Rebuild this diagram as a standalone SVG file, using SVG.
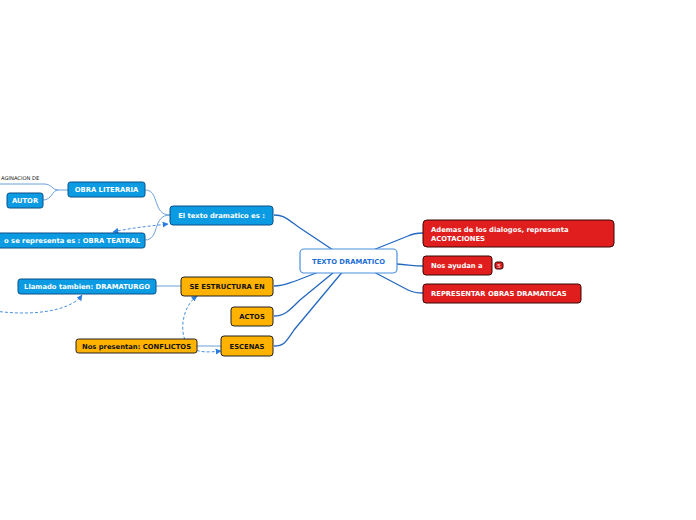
<svg xmlns="http://www.w3.org/2000/svg" width="696" height="520" viewBox="0 0 696 520">
<defs>
<style>
text{font-family:"DejaVu Sans",Verdana,sans-serif;font-weight:bold;font-size:6.8px}
.blue rect{fill:#0b9be3;stroke:#0a4f86;stroke-width:1}
.blue text{fill:#fff}
.orange rect{fill:#ffb300;stroke:#222;stroke-width:1}
.orange text{fill:#111}
.red rect{fill:#e01e1e;stroke:#3a0505;stroke-width:1}
.red text{fill:#fff}
.main{fill:none;stroke:#2468c0;stroke-width:1.3}
.sub{fill:none;stroke:#5a95d6;stroke-width:0.9}
.dash{fill:none;stroke:#4a90e2;stroke-width:1;stroke-dasharray:3,2}
</style>
<marker id="arr" viewBox="0 0 10 10" refX="9" refY="5" markerWidth="6" markerHeight="6" orient="auto-start-reverse">
<path d="M0,0 L10,5 L0,10 z" fill="#2a7de0"/>
</marker>
</defs>
<rect width="696" height="520" fill="#fff"/>
<g id="connectors">
<path class="main" d="M274,215 C284,215 286,218 300,228 L336,252"/>
<path class="main" d="M274,286 C284,286 286,284 298,280 L334,266"/>
<path class="main" d="M274,316 C284,316 288,312 300,300 L339,268"/>
<path class="main" d="M274,346 C284,346 286,342 294,330 L344,270"/>
<path class="main" d="M368,252 L408,236 C414,233 418,233 423,233"/>
<path class="main" d="M397,264 C410,265 414,266 423,266"/>
<path class="main" d="M370,270 L408,290 C414,293 418,293 423,293"/>
<path class="sub" d="M145,190 C160,190 152,215 170,215"/>
<path class="sub" d="M145,240 C160,240 152,215 170,215"/>
<path class="sub" d="M68,190 L58,190 C52,190 52,184 44,184 L0,184"/>
<path class="sub" d="M43,200 C52,200 52,190 58,190"/>
<path class="sub" d="M156,286 L181,286"/>
<path class="sub" d="M197,346 L221,346"/>
<path class="dash" d="M113,232 C130,228 150,226 168,224" marker-start="url(#arr)" marker-end="url(#arr)"/>
<path class="dash" d="M-5,311 C30,316 70,312 82,295" marker-end="url(#arr)"/>
<path class="dash" d="M197,296 C180,308 178,340 192,349 C202,353 212,352 221,351" marker-start="url(#arr)" marker-end="url(#arr)"/>
</g>
<g id="n-center">
<rect x="300" y="249" width="97" height="24" rx="4" fill="#fff" stroke="#4a8fe0" stroke-width="1.2"/>
<text x="348.5" y="263.5" text-anchor="middle" fill="#1e6fd6">TEXTO DRAMATICO</text>
</g>
<g id="n-texto" class="blue">
<rect x="170" y="206" width="103" height="19" rx="3"/>
<text x="221.5" y="218" text-anchor="middle">El texto dramatico es :</text>
</g>
<g id="n-obralit" class="blue">
<rect x="68" y="182" width="77" height="15" rx="2.5"/>
<text x="106.5" y="192.3" text-anchor="middle">OBRA LITERARIA</text>
</g>
<g id="n-autor" class="blue">
<rect x="7" y="193" width="36" height="15" rx="2.5"/>
<text x="25" y="203.3" text-anchor="middle">AUTOR</text>
</g>
<g id="n-imag">
<text x="1" y="180" style="font-weight:normal;font-size:5.2px" fill="#111">AGINACION DE</text>
</g>
<g id="n-teatral" class="blue">
<rect x="-60" y="233" width="205" height="15" rx="2.5"/>
<text x="140" y="243.3" text-anchor="end">o se representa es : OBRA TEATRAL</text>
</g>
<g id="n-estructura" class="orange">
<rect x="181" y="277" width="92" height="19" rx="3"/>
<text x="227" y="289" text-anchor="middle">SE ESTRUCTURA EN</text>
</g>
<g id="n-actos" class="orange">
<rect x="231" y="307" width="42" height="19" rx="3"/>
<text x="252" y="319" text-anchor="middle">ACTOS</text>
</g>
<g id="n-escenas" class="orange">
<rect x="221" y="336" width="52" height="20" rx="3"/>
<text x="247" y="348.5" text-anchor="middle">ESCENAS</text>
</g>
<g id="n-dramaturgo" class="blue">
<rect x="18" y="279" width="138" height="15" rx="2.5"/>
<text x="87" y="289.3" text-anchor="middle">Llamado tambien: DRAMATURGO</text>
</g>
<g id="n-conflictos" class="orange">
<rect x="76" y="339" width="121" height="14" rx="2.5"/>
<text x="136.5" y="348.7" text-anchor="middle">Nos presentan: CONFLICTOS</text>
</g>
<g id="n-acotaciones" class="red">
<rect x="423" y="220" width="191" height="27" rx="4"/>
<text x="431" y="231.5">Ademas de los dialogos, representa</text>
<text x="431" y="240.5">ACOTACIONES</text>
</g>
<g id="n-ayudan" class="red">
<rect x="423" y="256" width="69" height="19" rx="3"/>
<text x="431" y="268">Nos ayudan a</text>
</g>
<g id="n-badge" class="red">
<rect x="495" y="262" width="8" height="7" rx="2"/>
<text x="499" y="267.8" text-anchor="middle" style="font-size:5.5px;font-weight:normal">5</text>
</g>
<g id="n-representar" class="red">
<rect x="423" y="284" width="158" height="19" rx="3"/>
<text x="431" y="296">REPRESENTAR OBRAS DRAMATICAS</text>
</g>
</svg>
